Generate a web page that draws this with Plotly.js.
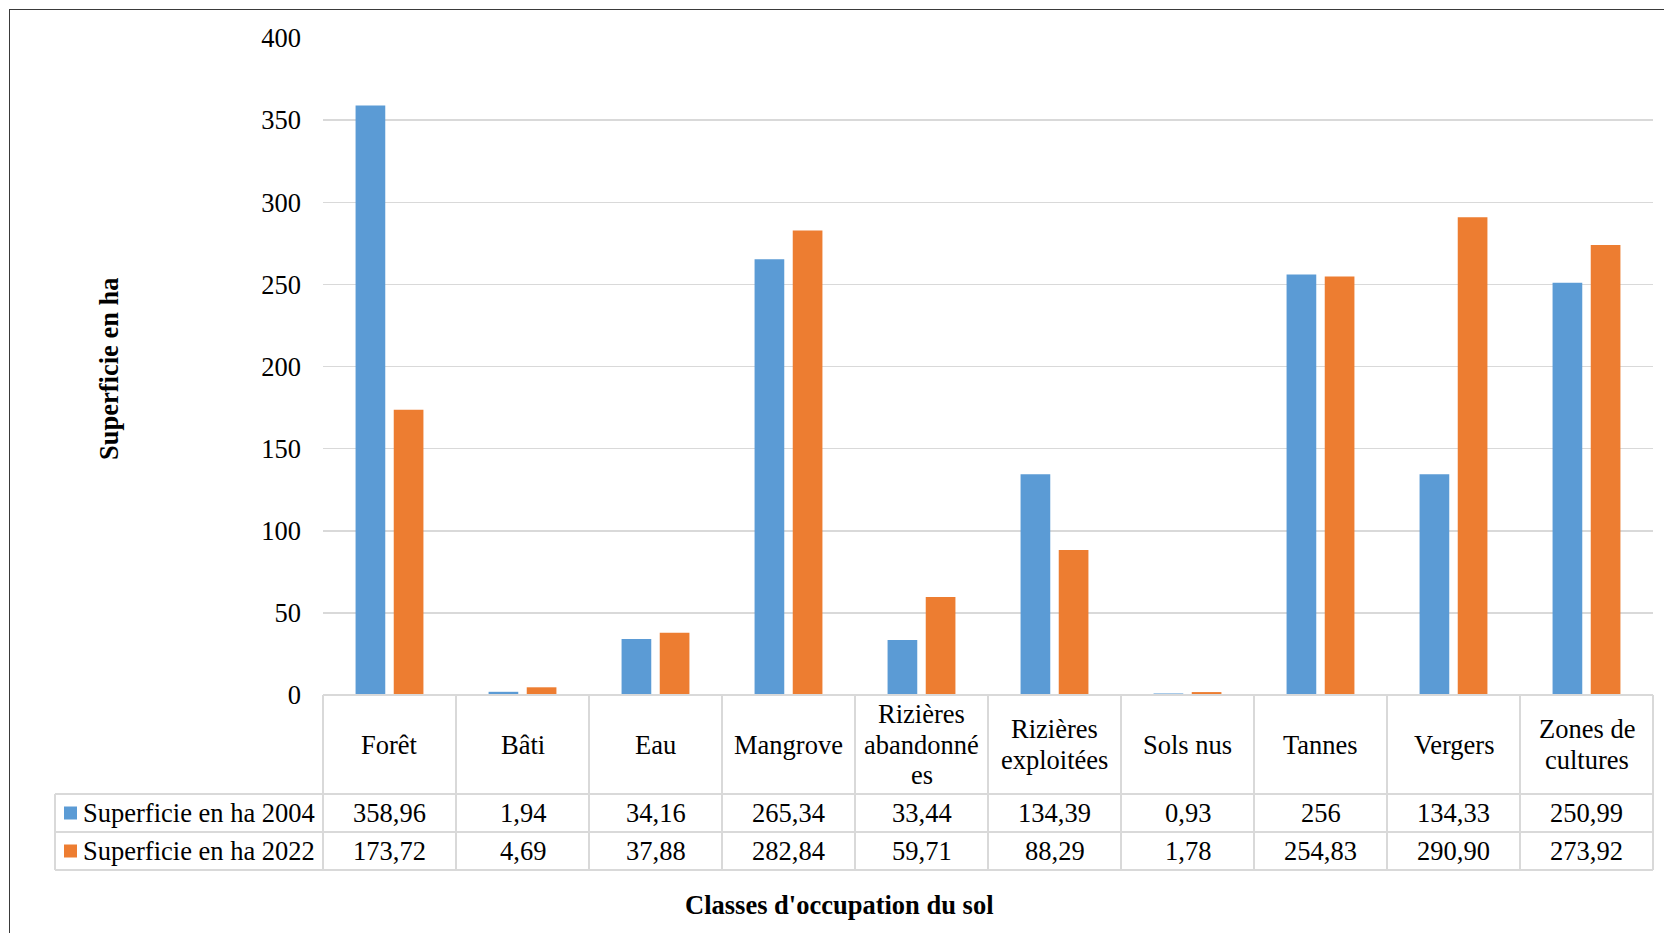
<!DOCTYPE html>
<html>
<head>
<meta charset="utf-8">
<script src="https://cdn.plot.ly/plotly-3.0.1.min.js"></script>
<style>
  html, body { margin: 0; padding: 0; background: #fff; overflow: hidden; }
  #wrap { position: relative; width: 1664px; height: 933px; }
  #chart { position: absolute; left: 0; top: 0; width: 1664px; height: 933px; }
  #frame {
    position: absolute; left: 9px; top: 9px; width: 1700px; height: 1000px;
    border-left: 1.5px solid #3a3a3a; border-top: 1.5px solid #3a3a3a;
    pointer-events: none;
  }
</style>
</head>
<body>
<div id="wrap">
  <div id="chart"></div>
  <div id="frame"></div>
</div>
<script>
// Land-cover classes (categories of the x axis)
const categories = ['Forêt', 'Bâti', 'Eau', 'Mangrove', 'Rizières abandonnées',
  'Rizières exploitées', 'Sols nus', 'Tannes', 'Vergers', 'Zones de cultures'];

// Header text of each class column in the data table (wrapped as in the table)
const headerLabels = ['Forêt', 'Bâti', 'Eau', 'Mangrove', 'Rizières<br>abandonné<br>es',
  'Rizières<br>exploitées', 'Sols nus', 'Tannes', 'Vergers', 'Zones de<br>cultures'];

// Areas in hectares, written as they appear in the table (comma decimals)
const area2004 = ['358,96', '1,94', '34,16', '265,34', '33,44', '134,39', '0,93', '256', '134,33', '250,99'];
const area2022 = ['173,72', '4,69', '37,88', '282,84', '59,71', '88,29', '1,78', '254,83', '290,90', '273,92'];

const seriesNames = ['Superficie en ha 2004', 'Superficie en ha 2022'];
const seriesColors = ['#5B9BD5', '#ED7D31'];

const yTicks = [0, 50, 100, 150, 200, 250, 300, 350, 400];

const toNumber = s => parseFloat(s.replace(',', '.'));

// Page geometry
const W = 1664, H = 933;
const M = { l: 323, r: 11, t: 38, b: 238 };
const plotW = W - M.l - M.r;
const plotH = H - M.t - M.b;
const px2x = px => (px - M.l) / plotW;
const py2y = py => (H - M.b - py) / plotH;

const FONT = 'Liberation Serif, Times New Roman, serif';
const FS = 26.5;
const LINE_H = 30.8;
const GRID = '#D9D9D9';

// Table rows (pixel rows below the axis)
const tableTop = H - M.b;
const headerBottom = 794;
const rowBottoms = [832, 870];
const rowCenters = [813, 851];
const legendLeft = 55;
const nCat = categories.length;

const traces = [area2004, area2022].map((vals, k) => ({
  type: 'bar',
  name: seriesNames[k],
  x: categories,
  y: vals.map(toNumber),
  marker: { color: seriesColors[k] },
  hoverinfo: 'skip'
}));

const annotations = [];
const shapes = [];
const textFont = { family: FONT, size: FS, color: '#000' };

// Column headers, one annotation per wrapped line
const headerMid = (tableTop + headerBottom) / 2;
categories.forEach((c, i) => {
  const lines = headerLabels[i].split('<br>');
  lines.forEach((ln, j) => {
    annotations.push({
      x: c, xref: 'x', y: py2y(headerMid + (j - (lines.length - 1) / 2) * LINE_H), yref: 'paper',
      text: ln, showarrow: false, xanchor: 'center', yanchor: 'middle', font: textFont
    });
  });
});

// Value rows with their series key
[area2004, area2022].forEach((vals, k) => {
  const yc = py2y(rowCenters[k]);
  vals.forEach((v, i) => {
    annotations.push({
      x: categories[i], xref: 'x', y: yc, yref: 'paper',
      text: v, showarrow: false, xanchor: 'center', yanchor: 'middle', font: textFont
    });
  });
  annotations.push({
    x: px2x(81), xref: 'paper', y: yc, yref: 'paper',
    text: seriesNames[k], showarrow: false, xanchor: 'left', yanchor: 'middle', font: textFont
  });
  shapes.push({
    type: 'rect', xref: 'paper', yref: 'paper',
    xsizemode: 'pixel', ysizemode: 'pixel',
    xanchor: px2x(64), yanchor: yc,
    x0: 0, x1: 13, y0: -6.5, y1: 6.5,
    fillcolor: seriesColors[k], line: { width: 0 }
  });
});

// Table grid lines
const tableLine = { color: GRID, width: 2 };
shapes.push({ type: 'line', xref: 'paper', yref: 'paper', x0: 0, x1: 1,
  y0: py2y(tableTop), y1: py2y(tableTop), line: tableLine });
[headerBottom].concat(rowBottoms).forEach(py => {
  shapes.push({ type: 'line', xref: 'paper', yref: 'paper', x0: px2x(legendLeft), x1: 1,
    y0: py2y(py), y1: py2y(py), line: tableLine });
});
shapes.push({ type: 'line', xref: 'paper', yref: 'paper', x0: px2x(legendLeft), x1: px2x(legendLeft),
  y0: py2y(headerBottom), y1: py2y(rowBottoms[1]), line: tableLine });
for (let k = 0; k <= nCat; k++) {
  shapes.push({ type: 'line', xref: 'paper', yref: 'paper', x0: k / nCat, x1: k / nCat,
    y0: py2y(tableTop), y1: py2y(rowBottoms[1]), line: tableLine });
}

// Axis titles
annotations.push({
  x: px2x(109), xref: 'paper', y: py2y(369), yref: 'paper',
  text: '<b>Superficie en ha</b>', textangle: -90, showarrow: false,
  xanchor: 'center', yanchor: 'middle', font: textFont
});
annotations.push({
  x: px2x(839), xref: 'paper', y: py2y(905), yref: 'paper',
  text: "<b>Classes d'occupation du sol</b>", showarrow: false,
  xanchor: 'center', yanchor: 'middle', font: textFont
});

const layout = {
  width: W, height: H,
  margin: M,
  paper_bgcolor: '#fff', plot_bgcolor: '#fff',
  showlegend: false,
  barmode: 'group',
  bargap: 0.426,
  bargroupgap: 0.222,
  font: textFont,
  xaxis: {
    type: 'category', range: [-0.5, nCat - 0.5],
    showticklabels: false, showgrid: false, zeroline: false, showline: false, ticks: ''
  },
  yaxis: {
    range: [0, 400], tickvals: yTicks, ticktext: yTicks.map(String),
    showgrid: true, gridcolor: GRID, gridwidth: 1.5,
    zeroline: false, showline: false, ticks: '',
    ticklabelstandoff: 21,
    tickfont: textFont
  },
  annotations: annotations,
  shapes: shapes
};

Plotly.newPlot('chart', traces, layout, { displayModeBar: false, staticPlot: true });
</script>
</body>
</html>
